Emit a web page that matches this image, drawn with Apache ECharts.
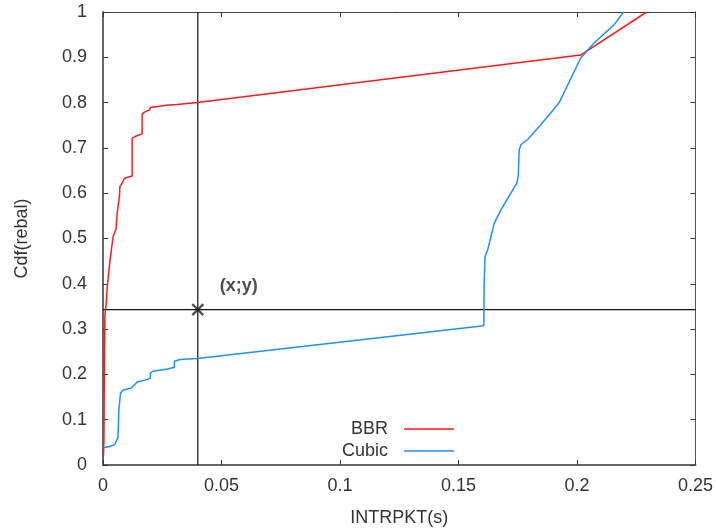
<!DOCTYPE html>
<html>
<head>
<meta charset="utf-8">
<script src="https://cdn.jsdelivr.net/npm/echarts@6/dist/echarts.min.js"></script>
<style>html,body{margin:0;padding:0;background:#fff;overflow:hidden}#c{width:716px;height:532px}</style>
</head>
<body>
<div id="c"></div>
<script>
const xTicks = [0, 0.05, 0.1, 0.15, 0.2, 0.25];
const yTicks = [0, 0.1, 0.2, 0.3, 0.4, 0.5, 0.6, 0.7, 0.8, 0.9, 1];
const seriesNames = ['BBR', 'Cubic'];
const bbrX = [0.0002, 0.0004, 0.0006, 0.0008, 0.0013, 0.0018, 0.0021, 0.0029, 0.0038, 0.0043, 0.0055, 0.006, 0.007, 0.0071, 0.008, 0.0091, 0.0123, 0.0123, 0.0135, 0.0165, 0.0165, 0.0175, 0.0196, 0.02, 0.0224, 0.0267, 0.0313, 0.0398, 0.2015, 0.2294];
const bbrY = [0.019, 0.056, 0.233, 0.332, 0.354, 0.394, 0.398, 0.449, 0.486, 0.505, 0.521, 0.557, 0.596, 0.614, 0.622, 0.633, 0.638, 0.7215, 0.725, 0.731, 0.774, 0.779, 0.784, 0.789, 0.791, 0.794, 0.796, 0.80, 0.905, 1.0];
const cubicX = [0.0001, 0.0028, 0.0049, 0.0063, 0.0067, 0.0074, 0.0084, 0.0119, 0.0144, 0.0189, 0.020, 0.020, 0.021, 0.0273, 0.0301, 0.0301, 0.0326, 0.0398, 0.1607, 0.1608, 0.1612, 0.1623, 0.1651, 0.1679, 0.1746, 0.1752, 0.1756, 0.1763, 0.1791, 0.1847, 0.1889, 0.1925, 0.2015, 0.2071, 0.2155, 0.2197];
const cubicY = [0.038, 0.041, 0.045, 0.06, 0.122, 0.159, 0.165, 0.170, 0.183, 0.189, 0.192, 0.203, 0.207, 0.212, 0.216, 0.229, 0.233, 0.235, 0.3076, 0.394, 0.46, 0.475, 0.534, 0.563, 0.622, 0.637, 0.695, 0.707, 0.718, 0.751, 0.777, 0.80, 0.898, 0.931, 0.971, 1.0];
const guideX = 0.04;
const guideY = 0.343;
const pointLabel = '(x;y)';

const zip = (xs, ys) => xs.map((x, i) => [x, ys[i]]);
const FONT = '"Liberation Sans", Arial, sans-serif';
const TXT = '#333';
const chart = echarts.init(document.getElementById('c'), null, {renderer: 'canvas', width: 716, height: 532});
const xMin = xTicks[0], xMax = xTicks[xTicks.length - 1];
const yMin = yTicks[0], yMax = yTicks[yTicks.length - 1];

chart.setOption({
  animation: false,
  backgroundColor: '#fff',
  grid: {left: 103, right: 17, top: 12, bottom: 67, containLabel: false},
  legend: [
    {data: [{name: seriesNames[0]}], orient: 'vertical', right: 257, top: 415, align: 'right',
     icon: 'rect', itemWidth: 50, itemHeight: 1.5, textStyle: {fontFamily: FONT, fontSize: 18, color: TXT, padding: [0, 11, 0, 0]}},
    {data: [{name: seriesNames[1]}], orient: 'vertical', right: 257, top: 437, align: 'right',
     icon: 'rect', itemWidth: 50, itemHeight: 1.5, textStyle: {fontFamily: FONT, fontSize: 18, color: TXT, padding: [0, 11, 0, 0]}}
  ],
  xAxis: [
    {type: 'value', min: xMin, max: xMax, interval: 0.05, name: 'INTRPKT(s)', nameLocation: 'middle', nameGap: 44,
     nameTextStyle: {fontFamily: FONT, fontSize: 18, color: TXT},
     axisLine: {onZero: false, lineStyle: {color: '#666', width: 2}},
     axisTick: {inside: true, length: 5, lineStyle: {color: '#333', width: 1}},
     axisLabel: {fontFamily: FONT, fontSize: 18, color: TXT, margin: 12},
     splitLine: {show: false}},
    {type: 'value', position: 'top', min: xMin, max: xMax, interval: 0.05,
     axisLine: {onZero: false, lineStyle: {color: '#444', width: 1}},
     axisTick: {inside: true, length: 5, lineStyle: {color: '#333', width: 1}},
     axisLabel: {show: false}, splitLine: {show: false}}
  ],
  yAxis: [
    {type: 'value', min: yMin, max: yMax, interval: 0.1, name: 'Cdf(rebal)', nameLocation: 'middle', nameGap: 72,
     nameTextStyle: {fontFamily: FONT, fontSize: 18, color: TXT},
     axisLine: {show: true, onZero: false, lineStyle: {color: '#666', width: 2}},
     axisTick: {show: true, inside: true, length: 5, lineStyle: {color: '#333', width: 1}},
     axisLabel: {fontFamily: FONT, fontSize: 18, color: TXT, margin: 16},
     splitLine: {show: false}},
    {type: 'value', position: 'right', min: yMin, max: yMax, interval: 0.1,
     axisLine: {show: true, onZero: false, lineStyle: {color: '#555', width: 1}},
     axisTick: {show: true, inside: true, length: 5, lineStyle: {color: '#333', width: 1}},
     axisLabel: {show: false}, splitLine: {show: false}}
  ],
  series: [
    {name: 'guideV', type: 'line', data: [[guideX, yMin], [guideX, yMax]], symbol: 'none',
     lineStyle: {color: '#111', width: 1.2}, silent: true, z: 1},
    {name: 'guideH', type: 'line', data: [[xMin, guideY], [xMax, guideY]], symbol: 'none',
     lineStyle: {color: '#111', width: 1.2}, silent: true, z: 1},
    {name: seriesNames[0], type: 'line', data: zip(bbrX, bbrY), symbol: 'none', color: '#ff1a1a',
     lineStyle: {color: '#ff1a1a', width: 1.5}, z: 3},
    {name: seriesNames[1], type: 'line', data: zip(cubicX, cubicY), symbol: 'none', color: '#1e8fff',
     lineStyle: {color: '#1e8fff', width: 1.5}, z: 3},
    {name: 'point', type: 'scatter', data: [[guideX, guideY]],
     symbol: 'path://M0,0 L10,10 M10,0 L0,10', symbolSize: 11,
     itemStyle: {color: 'none', borderColor: '#222', borderWidth: 2.2},
     label: {show: true, formatter: pointLabel, position: 'right', offset: [9, -24],
             fontFamily: FONT, fontSize: 18, fontWeight: 'bold', color: '#222'},
     z: 5}
  ]
});
</script>
</body>
</html>
